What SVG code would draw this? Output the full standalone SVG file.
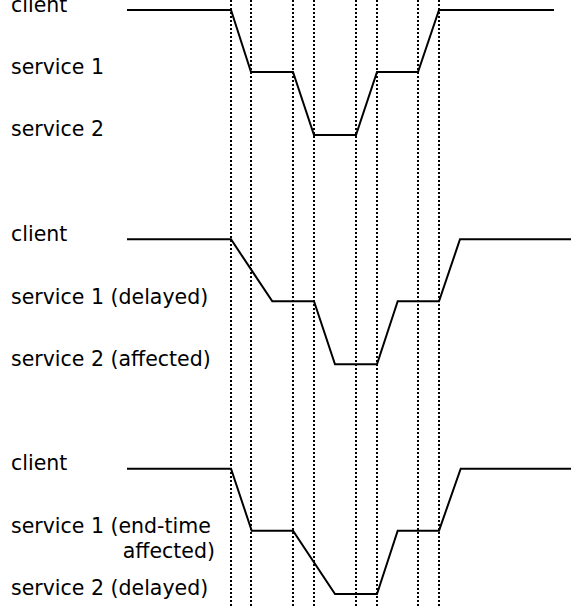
<svg xmlns="http://www.w3.org/2000/svg" width="571" height="607" viewBox="0 0 571 607">
<style>
text{font-family:"DejaVu Sans","Liberation Sans",sans-serif;font-size:20.5px;fill:#000}
.grid line{stroke:#000;stroke-width:2;stroke-dasharray:2 2}
.wave{fill:none;stroke:#000;stroke-width:2;stroke-linejoin:miter}
</style>
<rect width="571" height="607" fill="#fff"/>
<g id="grid" class="grid">
<line x1="231" y1="0" x2="231" y2="607"/>
<line x1="251" y1="0" x2="251" y2="607"/>
<line x1="293" y1="0" x2="293" y2="607"/>
<line x1="314" y1="0" x2="314" y2="607"/>
<line x1="356" y1="0" x2="356" y2="607"/>
<line x1="377" y1="0" x2="377" y2="607"/>
<line x1="418" y1="0" x2="418" y2="607"/>
<line x1="439" y1="0" x2="439" y2="607"/>
</g>
<g id="chart1">
<text x="11" y="12">client</text>
<text x="11" y="74">service 1</text>
<text x="11" y="136">service 2</text>
</g>
<g id="chart2">
<text x="11" y="241">client</text>
<text x="11" y="304">service 1 (delayed)</text>
<text x="11" y="366">service 2 (affected)</text>
</g>
<g id="chart3">
<text x="11" y="470">client</text>
<text x="11" y="533">service 1 (end-time</text>
<text x="215" y="558" text-anchor="end">affected)</text>
<text x="11" y="595">service 2 (delayed)</text>
</g>
<g id="connectors">
<polyline class="wave" points="127,10 231,10 251,72 293,72 314,135 356,135 377,72 418,72 439,10 554,10"/>
<polyline class="wave" points="127,239.3 231,239.3 272.3,301.3 314,301.3 335,364.3 377,364.3 397.7,301.3 439,301.3 460,239.3 571,239.3"/>
<polyline class="wave" points="127,468.7 231,468.7 251.7,530.7 293,530.7 335,594 377,594 397.7,530.7 439,530.7 460.7,468.7 571,468.7"/>
</g>
</svg>
